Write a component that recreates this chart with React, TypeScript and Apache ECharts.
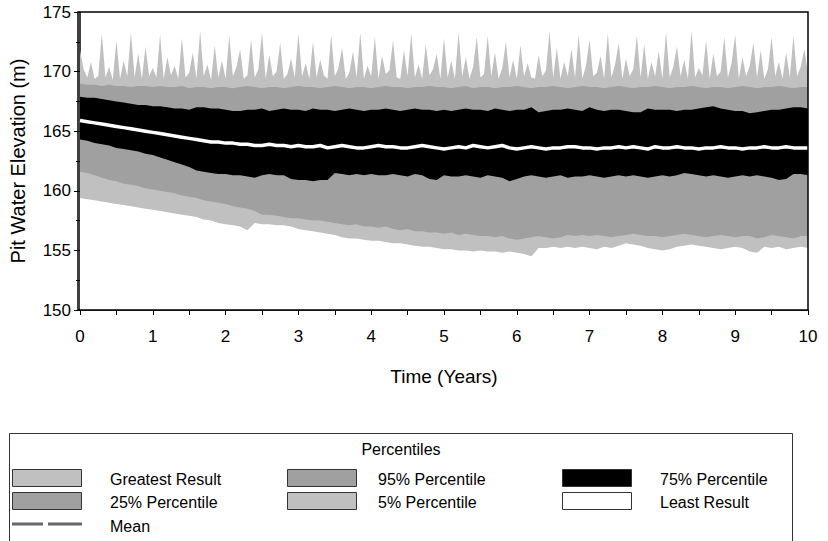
import React, { useEffect, useRef } from "react";
import * as echarts from "echarts";

// Percentile bands, sampled every 0.1 year from 0 to 10
const p95 = [
  169.0, 168.9, 168.9, 168.8, 168.9, 168.8, 168.8, 168.7, 168.8, 168.8,
  168.7, 168.8, 168.7, 168.7, 168.8, 168.6, 168.7, 168.7, 168.6, 168.7,
  168.7, 168.6, 168.7, 168.8, 168.7, 168.6, 168.7, 168.7, 168.6, 168.7,
  168.8, 168.7, 168.7, 168.6, 168.7, 168.8, 168.7, 168.6, 168.7, 168.7,
  168.6, 168.7, 168.8, 168.7, 168.7, 168.6, 168.7, 168.7, 168.8, 168.7,
  168.7, 168.6, 168.7, 168.8, 168.6, 168.7, 168.7, 168.6, 168.7, 168.7,
  168.8, 168.7, 168.6, 168.7, 168.7, 168.8, 168.7, 168.6, 168.7, 168.8,
  168.7, 168.7, 168.6, 168.7, 168.8, 168.7, 168.6, 168.7, 168.7, 168.8,
  168.7, 168.6, 168.7, 168.7, 168.8, 168.7, 168.6, 168.7, 168.7, 168.6,
  168.7, 168.8, 168.7, 168.6, 168.7, 168.7, 168.8, 168.7, 168.6, 168.7,
  168.7,
];
const p75 = [
  167.9, 167.8, 167.8, 167.7, 167.6, 167.5, 167.4, 167.3, 167.2, 167.2,
  167.1, 167.1, 167.0, 166.9, 166.9, 166.8, 167.0, 167.0, 166.9, 166.9,
  166.8, 166.7, 166.7, 166.8, 166.8, 166.9, 166.7, 166.8, 166.9, 166.8,
  166.8, 166.7, 166.9, 166.8, 166.8, 166.7, 166.8, 166.9, 166.8, 166.7,
  166.8, 166.8, 166.9, 166.8, 166.7, 166.8, 166.9, 166.8, 166.8, 166.7,
  166.8, 166.7, 166.8, 166.9, 166.8, 166.8, 166.7, 166.9, 166.8, 166.7,
  166.8, 166.8, 167.0, 166.6, 166.7, 166.8, 166.8, 166.9, 166.8, 166.7,
  167.0, 166.8, 166.7, 166.8, 166.8, 166.7, 166.6, 166.6, 166.9, 166.8,
  166.8, 166.8, 166.7, 166.8, 166.8, 166.9, 167.0, 167.1, 166.9, 166.8,
  166.7, 166.7, 166.5, 166.6, 166.7, 166.8, 166.8, 166.9, 167.0, 167.0,
  166.9,
];
const median = [
  165.9, 165.8, 165.7, 165.6, 165.5, 165.4, 165.3, 165.2, 165.1, 165.0,
  164.9, 164.8, 164.7, 164.6, 164.5, 164.4, 164.3, 164.2, 164.1, 164.1,
  164.0, 164.0, 163.9, 163.9, 163.8, 163.8, 163.9, 163.8, 163.8, 163.7,
  163.8, 163.7, 163.7, 163.8, 163.6, 163.7, 163.8, 163.7, 163.6, 163.6,
  163.7, 163.8, 163.7, 163.7, 163.6, 163.6, 163.7, 163.8, 163.7, 163.6,
  163.5, 163.6, 163.7, 163.6, 163.8, 163.7, 163.6, 163.7, 163.8, 163.6,
  163.5, 163.6, 163.7, 163.6, 163.5, 163.6, 163.6, 163.7, 163.7, 163.6,
  163.6, 163.5, 163.6, 163.6, 163.7, 163.6, 163.7, 163.6, 163.5, 163.7,
  163.6, 163.6, 163.7, 163.6, 163.6, 163.5, 163.6, 163.6, 163.7, 163.6,
  163.6, 163.5, 163.6, 163.6, 163.7, 163.6, 163.6, 163.7, 163.6, 163.6,
  163.6,
];
const p25 = [
  164.3, 164.2, 164.0, 163.9, 163.8, 163.6, 163.5, 163.4, 163.3, 163.1,
  163.0, 162.8, 162.6, 162.4, 162.2, 162.0, 161.7, 161.6, 161.5, 161.4,
  161.4, 161.3, 161.3, 161.2, 161.1, 161.3, 161.4, 161.3, 161.3, 161.0,
  160.9, 160.9, 160.8, 160.9, 160.9, 161.5, 161.4, 161.3, 161.4, 161.3,
  161.4, 161.3, 161.3, 161.4, 161.3, 161.2, 161.4, 161.3, 161.0, 160.9,
  161.3, 161.2, 161.2, 161.3, 161.2, 161.1, 161.3, 161.2, 161.1, 160.8,
  161.0, 161.2, 161.3, 161.2, 161.1, 161.2, 161.3, 161.1, 161.2, 161.2,
  161.3, 161.2, 161.1, 161.2, 161.3, 161.2, 161.3, 161.2, 161.1, 161.2,
  161.3, 161.2, 161.3, 161.5, 161.4, 161.3, 161.2, 161.3, 161.2, 161.1,
  161.2, 161.3, 161.2, 161.3, 161.2, 161.1, 160.9, 161.0, 161.4, 161.4,
  161.3,
];
const p5 = [
  161.6, 161.5, 161.3, 161.1, 160.9, 160.8, 160.6, 160.5, 160.4, 160.2,
  160.1, 160.0, 159.9, 159.8, 159.6, 159.5, 159.4, 159.2, 159.1, 159.0,
  158.9, 158.7, 158.6, 158.5, 158.3, 158.0, 158.0, 157.9, 157.8, 157.7,
  157.7, 157.6, 157.5, 157.5, 157.4, 157.3, 157.2, 157.1, 157.2, 157.0,
  157.0, 156.9, 157.0, 156.8, 156.7, 156.8, 156.6, 156.6, 156.5, 156.5,
  156.4, 156.5, 156.3, 156.4, 156.3, 156.2, 156.2, 156.1, 156.2, 156.0,
  155.9, 156.0, 156.1, 156.2, 156.1, 156.0, 156.1, 156.3, 156.2, 156.3,
  156.2, 156.3, 156.2, 156.1, 156.2, 156.3, 156.4, 156.3, 156.2, 156.2,
  156.1, 156.2, 156.3, 156.4, 156.3, 156.2, 156.1, 156.2, 156.3, 156.2,
  156.1, 156.2, 156.2, 156.0, 156.1, 156.3, 156.2, 156.1, 156.0, 156.2,
  156.2,
];
const least = [
  159.4, 159.3, 159.2, 159.1, 159.0, 158.9, 158.8, 158.7, 158.6, 158.5,
  158.4, 158.3, 158.2, 158.1, 158.0, 157.9, 157.8, 157.6, 157.5, 157.3,
  157.2, 157.1, 157.0, 156.7, 157.3, 157.2, 157.2, 157.1, 157.1, 157.0,
  156.8, 156.7, 156.6, 156.5, 156.4, 156.3, 156.1, 156.0, 156.0, 155.9,
  155.8, 155.8, 155.7, 155.6, 155.6, 155.5, 155.4, 155.3, 155.3, 155.2,
  155.1, 155.1, 155.0, 155.0, 154.9, 155.0, 154.9, 154.9, 154.8, 154.9,
  154.8, 154.7, 154.5, 155.2, 155.2, 155.3, 155.2, 155.3, 155.2, 155.3,
  155.2, 155.1, 155.3, 155.2, 155.4, 155.6, 155.5, 155.4, 155.2, 155.1,
  155.0, 155.1, 155.3, 155.4, 155.5, 155.4, 155.3, 155.2, 155.1, 155.2,
  155.3, 155.2, 154.9, 154.8, 155.3, 155.2, 155.3, 155.1, 155.2, 155.3,
  155.2,
];
// Greatest result, sampled every 0.05 year from 0 to 10
const greatest = [
  171.8, 170.2, 169.5, 170.8, 169.4, 169.6, 173.2, 169.5, 170.4, 169.3, 172.6, 169.4, 170.9, 169.6, 173.3, 169.5, 171.5, 169.4, 172.1, 169.6,
  170.3, 169.5, 173.1, 169.4, 171.2, 169.7, 170.5, 169.4, 172.8, 169.5, 169.9, 171.6, 169.4, 173.4, 169.6, 170.6, 169.3, 172.2, 169.5, 170.9,
  169.4, 173.0, 169.6, 170.4, 171.9, 169.4, 169.7, 172.7, 169.5, 170.2, 173.3, 169.4, 171.4, 169.6, 170.0, 172.4, 169.4, 169.8, 171.1, 169.5,
  173.2, 169.6, 170.7, 169.4, 172.5, 169.5, 171.0, 169.7, 169.4, 173.1, 169.6, 170.3, 172.0, 169.4, 169.9, 171.7, 169.5, 173.3, 169.4, 170.5,
  169.6, 172.9, 169.4, 171.3, 169.8, 170.1, 172.6, 169.5, 169.4, 171.8, 169.6, 173.2, 169.5, 170.6, 169.4, 172.3, 169.7, 170.2, 171.5, 169.4,
  172.8, 169.5, 170.9, 169.4, 173.3, 169.6, 171.2, 169.4, 170.4, 172.9, 169.5, 169.8, 173.0, 169.6, 171.6, 169.4, 170.3, 172.5, 169.5, 171.0,
  169.4, 172.2, 169.6, 170.7, 169.5, 169.4, 171.4, 169.6, 170.1, 173.4, 169.5, 172.0, 169.4, 170.8, 169.6, 171.9, 169.5, 173.1, 169.4, 170.5,
  172.7, 169.6, 169.9, 171.3, 169.4, 173.2, 169.5, 170.6, 172.4, 169.4, 171.1, 169.6, 170.2, 173.0, 169.5, 172.3, 169.4, 170.8, 169.6, 171.7,
  169.4, 173.3, 169.5, 170.4, 172.1, 169.6, 171.0, 169.4, 173.4, 169.5, 170.3, 169.7, 172.6, 169.4, 171.5, 169.6, 170.0, 172.9, 169.5, 170.7,
  173.1, 169.4, 171.2, 169.6, 170.5, 172.4, 169.5, 171.8, 169.4, 170.2, 172.9, 169.6, 170.8, 169.4, 171.6, 169.5, 173.0, 169.6, 170.4, 171.9,
  169.8,
];

const xTickLabels = ["0", "1", "2", "3", "4", "5", "6", "7", "8", "9", "10"];
const legendNames = [
  "Greatest Result", "95% Percentile", "75% Percentile",
  "25% Percentile", "5% Percentile", "Least Result", "Mean",
];

const FONT = "'Liberation Sans', Arial, Helvetica, sans-serif";
const LIGHT = "#c0c0c0";
const MID = "#a0a0a0";

const toPairs = (arr: number[], step: number) => arr.map((v, i) => [+(i * step).toFixed(3), v]);

export default function App() {
  const ref = useRef<HTMLDivElement>(null);
  useEffect(() => {
    if (!ref.current) return;
    const chart = echarts.init(ref.current, null, { renderer: "svg" });

    const band = (name: string, data: number[], step: number, color: string) => ({
      name,
      type: "line",
      data: toPairs(data, step),
      showSymbol: false,
      symbol: "none",
      lineStyle: { width: 0, color },
      itemStyle: { color },
      areaStyle: { color, opacity: 1, origin: "start" },
      silent: true,
    });

    const gx = 78, gy = 12, gw = 730, gh = 298;

    // legend layout
    const colSw = [12.5, 287.5, 562.5];
    const colTx = [110, 378, 660];
    const rowSw = [469.5, 492.5];
    const rowTx = [479, 502, 526];
    const swColors = [LIGHT, MID, "#000", MID, LIGHT, "#fff"];
    const legendEls: any[] = [
      {
        type: "rect",
        shape: { x: 9.5, y: 433.5, width: 783, height: 115 },
        style: { fill: "#fff", stroke: "#333", lineWidth: 1 },
      },
      {
        type: "text",
        x: 401,
        y: 449,
        style: { text: "Percentiles", font: `16px ${FONT}`, fill: "#000", align: "center", verticalAlign: "middle" },
      },
    ];
    for (let i = 0; i < 6; i++) {
      const r = Math.floor(i / 3), c = i % 3;
      legendEls.push({
        type: "rect",
        shape: { x: colSw[c], y: rowSw[r], width: 69, height: 17 },
        style: { fill: swColors[i], stroke: "#333", lineWidth: 1 },
      });
      legendEls.push({
        type: "text",
        x: colTx[c],
        y: rowTx[r],
        style: { text: legendNames[i], font: `16px ${FONT}`, fill: "#000", verticalAlign: "middle" },
      });
    }
    legendEls.push(
      { type: "line", shape: { x1: 12, y1: 524, x2: 43, y2: 524 }, style: { stroke: "#666", lineWidth: 3 } },
      { type: "line", shape: { x1: 48, y1: 524, x2: 82, y2: 524 }, style: { stroke: "#666", lineWidth: 3 } },
      {
        type: "text",
        x: colTx[0],
        y: rowTx[2],
        style: { text: legendNames[6], font: `16px ${FONT}`, fill: "#000", verticalAlign: "middle" },
      }
    );

    chart.setOption({
      animation: false,
      backgroundColor: "#fff",
      textStyle: { fontFamily: FONT },
      grid: { left: gx, top: gy, width: gw, height: gh, show: false },
      xAxis: {
        type: "value",
        min: 0,
        max: 10,
        interval: 1,
        name: "Time (Years)",
        nameLocation: "middle",
        nameGap: 57,
        nameTextStyle: { fontSize: 19, color: "#000", fontFamily: FONT },
        axisLine: { show: true, lineStyle: { color: "#000", width: 1.5 } },
        axisTick: { show: true, length: 5, lineStyle: { color: "#000" } },
        minorTick: { show: true, splitNumber: 2, length: 5, lineStyle: { color: "#000" } },
        splitLine: { show: false },
        axisLabel: {
          fontSize: 17,
          color: "#000",
          fontFamily: FONT,
          margin: 18,
          formatter: (v: number) => xTickLabels[Math.round(v)] ?? "",
        },
      },
      yAxis: {
        type: "value",
        min: 150,
        max: 175,
        interval: 5,
        name: "Pit Water Elevation (m)",
        nameLocation: "middle",
        nameGap: 52,
        nameTextStyle: { fontSize: 20, color: "#000", fontFamily: FONT },
        axisLine: { show: true, lineStyle: { color: "#000", width: 1.5 } },
        axisTick: { show: true, length: 6, lineStyle: { color: "#000" } },
        minorTick: { show: true, splitNumber: 2, length: 4, lineStyle: { color: "#000" } },
        splitLine: { show: false },
        axisLabel: { fontSize: 17, color: "#000", fontFamily: FONT, margin: 9 },
      },
      graphic: [
        {
          type: "rect",
          z: 100,
          silent: true,
          shape: { x: gx, y: gy, width: gw, height: gh },
          style: { fill: "none", stroke: "#000", lineWidth: 1.5 },
        },
        ...legendEls,
      ],
      series: [
        band("Greatest Result", greatest, 0.05, LIGHT),
        band("95% Percentile", p95, 0.1, MID),
        band("75% Percentile", p75, 0.1, "#000"),
        band("25% Percentile", p25, 0.1, MID),
        band("5% Percentile", p5, 0.1, LIGHT),
        band("Least Result", least, 0.1, "#fff"),
        {
          name: "Median",
          type: "line",
          data: toPairs(median, 0.1),
          showSymbol: false,
          symbol: "none",
          lineStyle: { width: 3.5, color: "#fff" },
          silent: true,
        },
      ],
    });
    return () => chart.dispose();
  }, []);

  return (
    <div
      ref={ref}
      style={{ position: "absolute", left: 0, top: 0, width: 828, height: 541, background: "#fff" }}
    />
  );
}
